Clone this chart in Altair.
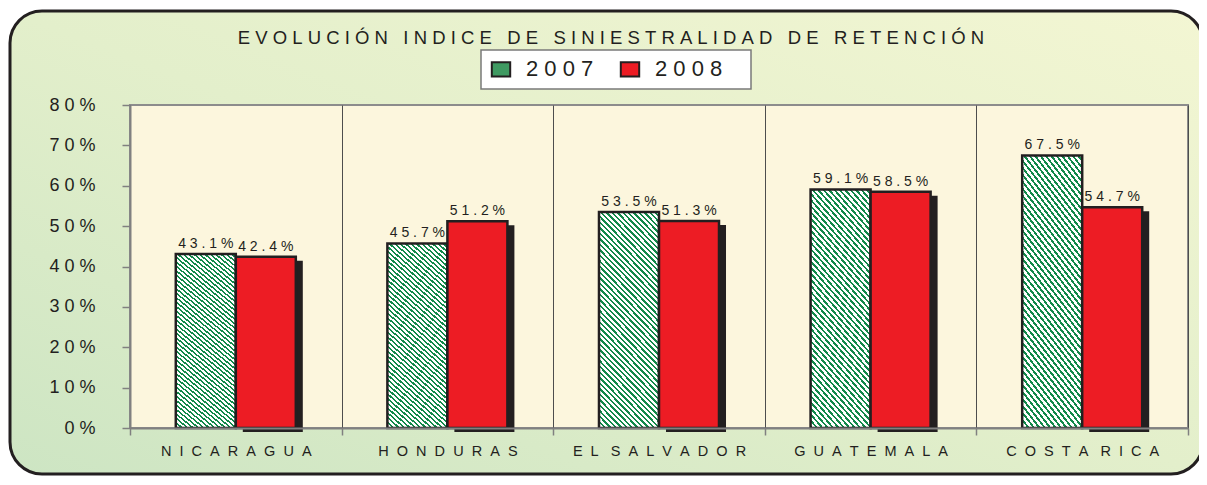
import altair as alt
import pandas as pd

# ---------------- data ----------------
countries = ["NICARAGUA", "HONDURAS", "EL SALVADOR", "GUATEMALA", "COSTA RICA"]
years = ["2007", "2008"]
v2007 = [43.1, 45.7, 53.5, 59.1, 67.5]
v2008 = [42.4, 51.2, 51.3, 58.5, 54.7]
y_ticks = [0, 10, 20, 30, 40, 50, 60, 70, 80]
title_text = "EVOLUCIÓN INDICE DE SINIESTRALIDAD DE RETENCIÓN"

# ---------------- styling ----------------
FONT = "Liberation Sans"
TXT = "#231f20"
GREEN = "#12894a"
RED = "#ed1c24"
NB = "\u00a0"


def spaced(s, gap, wgap):
    return wgap.join(gap.join(w) for w in s.split(" "))


rows = []
for i, c in enumerate(countries):
    for yr, vals in zip(years, [v2007, v2008]):
        rows.append({
            "country": c,
            "label": spaced(c, NB * 2, NB * 3),
            "year": yr,
            "value": vals[i],
            "txt": spaced(f"{vals[i]:.1f}%", NB, NB),
        })
df = pd.DataFrame(rows)
label_order = [spaced(c, NB * 2, NB * 3) for c in countries]

# striped gradient for 2007 bars (hard-edged stops)
N = 50
stops = []
for k in range(N):
    stops += [
        {"offset": k / N, "color": GREEN},
        {"offset": (k + 0.44) / N, "color": GREEN},
        {"offset": (k + 0.44) / N, "color": "#ffffff"},
        {"offset": (k + 1) / N, "color": "#ffffff"},
    ]
stripe = {"gradient": "linear", "x1": 0, "y1": 1, "x2": 0.3396, "y2": -0.1887,
          "stops": stops}

outer_grad = {"gradient": "linear", "x1": 0, "y1": 1, "x2": 1, "y2": 0,
              "stops": [{"offset": 0, "color": "#cde5c3"},
                        {"offset": 0.5, "color": "#e3efcb"},
                        {"offset": 1, "color": "#f3f6d3"}]}

W, H = 1058, 323

enc_x = alt.X("label:N", sort=label_order,
              scale=alt.Scale(paddingInner=0, paddingOuter=0),
              axis=alt.Axis(title=None, labelAngle=0, tickBand="extent", grid=True,
                            gridColor="#4d4d4d", gridWidth=1, tickColor="#808080",
                            tickSize=7, tickWidth=1.5, domainColor="#808080", domainWidth=2,
                            labelFont=FONT, labelFontSize=14.5, labelColor=TXT,
                            labelPadding=9, labelLimit=0, zindex=1))


def xo(align=0.5):
    return alt.XOffset("year:N", scale=alt.Scale(type="band", domain=years, paddingInner=0,
                                                 paddingOuter=0.763, align=align))


enc_y = alt.Y("value:Q", scale=alt.Scale(domain=[0, 80], nice=False),
              axis=alt.Axis(values=y_ticks, title=None, grid=False,
                            labelExpr="join(split(datum.value + '%', ''), '" + NB + "')",
                            tickSize=8, tickColor="#808080", tickWidth=1.5,
                            domainColor="#808080", domainWidth=2,
                            labelFont=FONT, labelFontSize=18, labelColor=TXT,
                            labelPadding=27, zindex=1))

one = pd.DataFrame({"d": [0]})

outer = alt.Chart(one).mark_rect(
    fill=outer_grad, stroke="#231f20", strokeWidth=3, cornerRadius=32
).encode(x=alt.value(-120), x2=alt.value(1073), y=alt.value(-94), y2=alt.value(369))

plotbg = alt.Chart(one).mark_rect(
    fill="#fcf6dd", stroke="#8c8c8c", strokeWidth=2
).encode(x=alt.value(0), x2=alt.value(W), y=alt.value(0), y2=alt.value(H))

legend_box = alt.Chart(one).mark_rect(
    fill="white", stroke="#7a7a7a", strokeWidth=1.5
).encode(x=alt.value(351), x2=alt.value(621), y=alt.value(-55), y2=alt.value(-16))

title = alt.Chart(one).mark_text(
    text=spaced(title_text, NB, NB * 3), font=FONT, fontSize=18.5, color=TXT,
    align="center", baseline="alphabetic"
).encode(x=alt.value(481), y=alt.value(-61))

base = alt.Chart(df)

# shadow: same bars, shifted a few pixels right through its own offset scale
shadow = base.transform_filter("datum.year == '2008'").mark_bar(
    color="#231f20", yOffset=4
).encode(x=enc_x, xOffset=xo(0.5764), y=enc_y)

bars07 = base.transform_filter("datum.year == '2007'").mark_bar(
    fill=stripe, stroke="#231f20", strokeWidth=2.5
).encode(x=enc_x, xOffset=xo(), y=enc_y)

bars08 = base.transform_filter("datum.year == '2008'").mark_bar(
    stroke="#231f20", strokeWidth=2.5
).encode(
    x=enc_x, xOffset=xo(), y=enc_y,
    color=alt.Color("year:N", scale=alt.Scale(domain=years, range=["#3f9a62", RED]),
                    legend=alt.Legend(title=None, orient="none", legendX=351, legendY=-56,
                                      direction="horizontal", padding=9,
                                      symbolType="M-1.15,-0.9L1.15,-0.9L1.15,0.9L-1.15,0.9Z",
                                      symbolSize=256, symbolStrokeColor="#231f20",
                                      symbolStrokeWidth=2, symbolOpacity=1,
                                      labelFont=FONT, labelFontSize=22, labelColor=TXT,
                                      labelOffset=14, columnPadding=22, labelLimit=0,
                                      labelExpr="join(split(datum.label, ''), '" + NB + "')")),
)

labels = base.mark_text(
    font=FONT, fontSize=14, color=TXT, baseline="alphabetic", dy=-6
).encode(x=enc_x, xOffset=xo(), y=enc_y, text="txt:N")

chart = alt.layer(outer, plotbg, legend_box, title, shadow, bars07, bars08, labels).resolve_scale(
    xOffset="independent"
).properties(
    width=W, height=H,
    padding={"left": 122, "top": 97, "right": 11, "bottom": 49},
    autosize=alt.AutoSizeParams(type="none"),
    background="white",
).configure_view(stroke=None)

chart.save("out.html", embed_options={"renderer": "svg", "actions": False})
